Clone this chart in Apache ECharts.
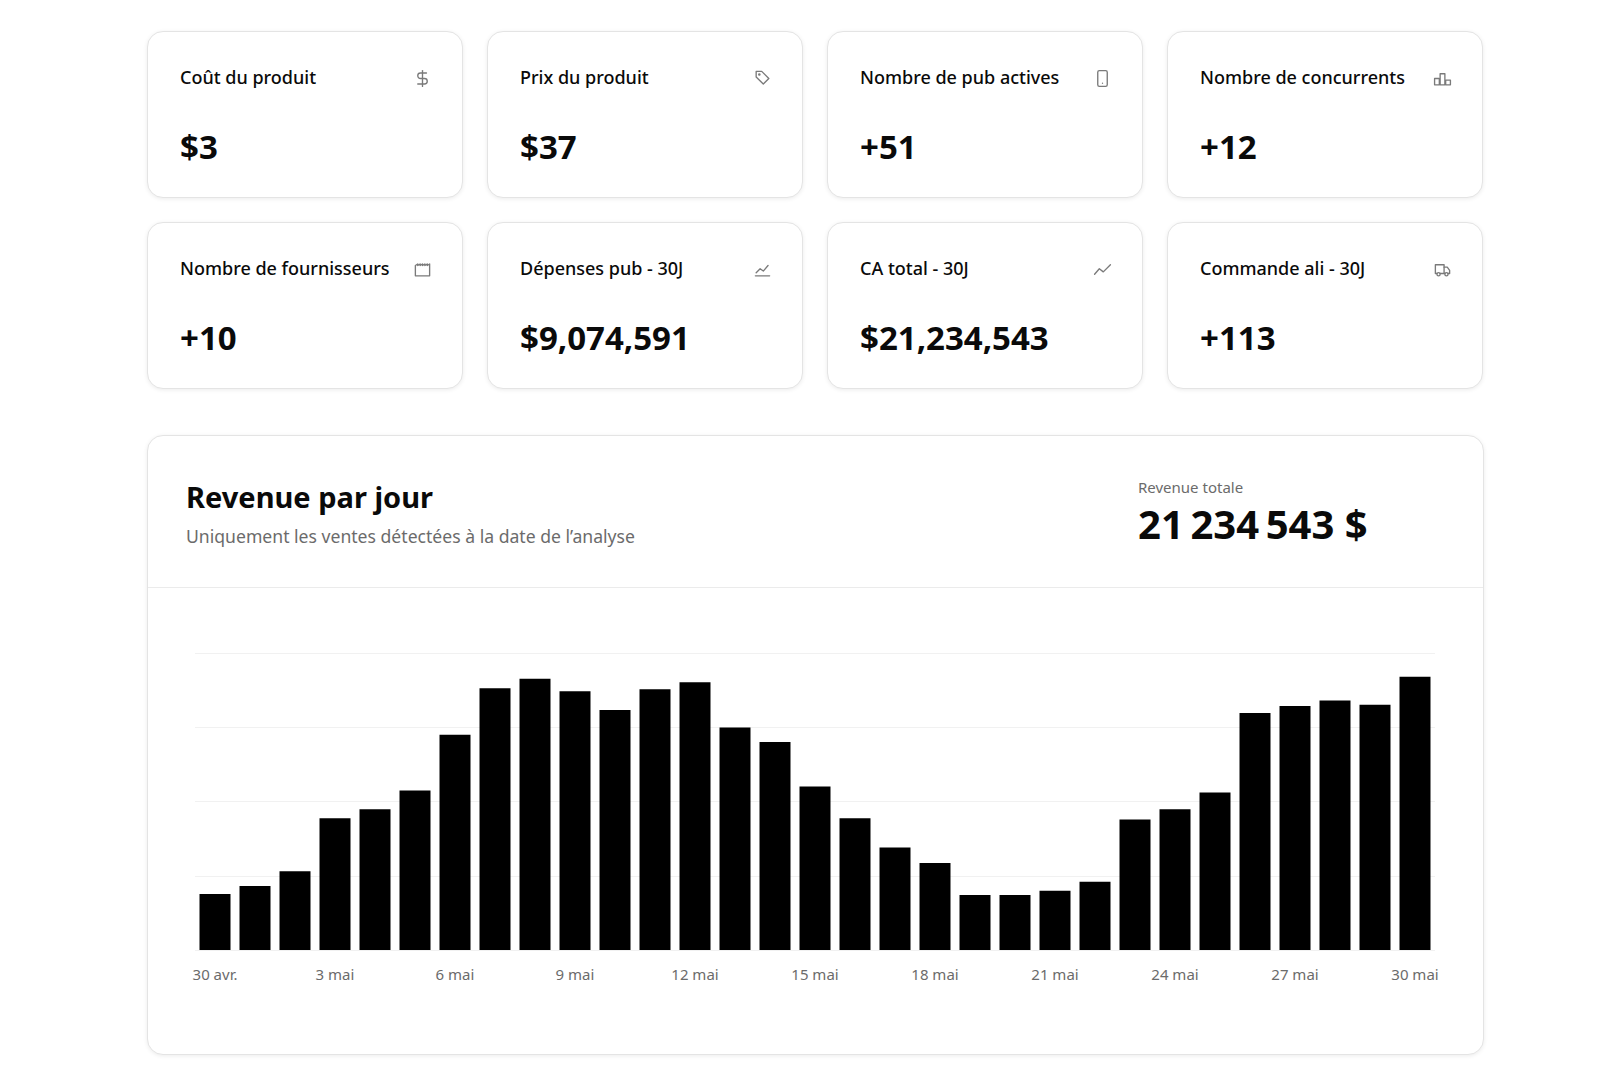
<!DOCTYPE html>
<html lang="fr">
<head>
<meta charset="utf-8">
<title>Revenue par jour</title>
<script src="https://cdn.jsdelivr.net/npm/echarts@6/dist/echarts.min.js"></script>
<style>
  html, body { margin: 0; padding: 0; background: #fff; }
  body { width: 1620px; height: 1074px; position: relative; overflow: hidden; font-family: "Noto Sans", "Open Sans", sans-serif; color: #0a0a0a; }
  .card { position: absolute; box-sizing: border-box; background: #fff; border: 1px solid #e4e4e4; border-radius: 16px; box-shadow: 0 1px 4px rgba(0,0,0,0.08); }
  .kpi { width: 316px; height: 167px; }
  .kpi .label { position: absolute; left: 32px; top: 33px; font-size: 18px; line-height: 24px; font-weight: 500; white-space: nowrap; }
  .kpi .icon { position: absolute; right: 30px; top: 37px; width: 19px; height: 19px; }
  .kpi .value { position: absolute; left: 32px; top: 95px; font-size: 33px; line-height: 40px; font-weight: 700; white-space: nowrap; }
  #revCard { left: 147px; top: 435px; width: 1337px; height: 620px; }
  #revCard .title { position: absolute; left: 38px; top: 42px; font-size: 29px; line-height: 38px; font-weight: 700; }
  #revCard .sub { position: absolute; left: 38px; top: 88px; font-size: 17.6px; line-height: 24px; color: #6b6b6b; }
  #revCard .totLabel { position: absolute; left: 990px; top: 41px; font-size: 15px; line-height: 20px; color: #6b6b6b; }
  #revCard .tot { position: absolute; left: 990px; top: 64px; font-size: 40px; line-height: 48px; font-weight: 700; white-space: nowrap; }
  #revCard .divider { position: absolute; left: 0; right: 0; top: 151px; height: 1px; background: #ebebeb; }
  #chart { position: absolute; left: 147px; top: 588px; width: 1337px; height: 466px; }
</style>
</head>
<body>
<div id="cards"></div>
<div class="card" id="revCard">
  <div class="title">Revenue par jour</div>
  <div class="sub">Uniquement les ventes détectées à la date de l’analyse</div>
  <div class="totLabel">Revenue totale</div>
  <div class="tot" id="tot"></div>
  <div class="divider"></div>
</div>
<div id="chart"></div>
<script>
// kpi cards
const kpiLabels = ['Coût du produit', 'Prix du produit', 'Nombre de pub actives', 'Nombre de concurrents',
  'Nombre de fournisseurs', 'Dépenses pub - 30J', 'CA total - 30J', 'Commande ali - 30J']
const kpiValues = ['$3', '$37', '+51', '+12', '+10', '$9,074,591', '$21,234,543', '+113']
const kpiIcons = ['dollar', 'tag', 'phone', 'bars', 'factory', 'area', 'trend', 'truck']

// revenue per day
const days = ['30 avr.', '1 mai', '2 mai', '3 mai', '4 mai', '5 mai', '6 mai', '7 mai', '8 mai', '9 mai',
  '10 mai', '11 mai', '12 mai', '13 mai', '14 mai', '15 mai', '16 mai', '17 mai', '18 mai', '19 mai',
  '20 mai', '21 mai', '22 mai', '23 mai', '24 mai', '25 mai', '26 mai', '27 mai', '28 mai', '29 mai', '30 mai']
const revenue = [226000, 259000, 318000, 532000, 569000, 644000, 870000, 1058000, 1096000, 1045000,
  970000, 1054000, 1082000, 899000, 840000, 661000, 532000, 414000, 352000, 222000,
  222000, 239000, 276000, 527000, 569000, 636000, 958000, 986000, 1008000, 991000, 1104000]
const totalRevenue = '21\u202f234\u202f543 $'

const iconPaths = {
  dollar: '<line x1="12" y1="2" x2="12" y2="22"/><path d="M17 5H9.5a3.5 3.5 0 0 0 0 7h5a3.5 3.5 0 0 1 0 7H6"/>',
  tag: '<path d="M4 3h7l9 9-7 7-9-9z"/><circle cx="8" cy="7" r="0.8"/>',
  phone: '<rect x="6" y="2" width="12" height="20" rx="2"/><path d="M12 18h.01"/>',
  bars: '<rect x="2" y="12" width="6" height="8"/><rect x="9" y="6" width="6" height="14"/><rect x="16" y="14" width="6" height="6"/>',
  factory: '<path d="M3 20V7l3 -2v2l3-2v2l3-2v2l3-2v2l3-2v2l3-2v15z"/>',
  area: '<path d="M3 20h18"/><path d="M4 16l5-5 4 3 6-7"/>',
  trend: '<polyline points="2 18 8 11 13 15 22 6"/>',
  truck: '<path d="M14 17V6H3v11h2"/><path d="M14 9h4l3 4v4h-2"/><circle cx="7" cy="18" r="2"/><circle cx="17" cy="18" r="2"/><path d="M9 17h6"/>'
}

const wrap = document.getElementById('cards')
kpiLabels.forEach((label, i) => {
  const card = document.createElement('div')
  card.className = 'card kpi'
  card.style.left = (147 + (i % 4) * 340) + 'px'
  card.style.top = (i < 4 ? 31 : 222) + 'px'
  card.innerHTML = '<div class="label">' + label + '</div>' +
    '<svg class="icon" viewBox="0 0 24 24" fill="none" stroke="#7a7a7a" stroke-width="1.7" stroke-linecap="round" stroke-linejoin="round">' +
    iconPaths[kpiIcons[i]] + '</svg>' +
    '<div class="value">' + kpiValues[i] + '</div>'
  wrap.appendChild(card)
})
document.getElementById('tot').textContent = totalRevenue

const chart = echarts.init(document.getElementById('chart'), null, {renderer: 'svg'})
chart.setOption({
  animation: false,
  grid: {left: 48, right: 49, top: 65, bottom: 104},
  xAxis: {
    type: 'category',
    data: days,
    axisLine: {show: false},
    axisTick: {show: false},
    axisLabel: {interval: 2, color: '#6b6b6b', fontSize: 15, margin: 16, fontFamily: 'Noto Sans'}
  },
  yAxis: {
    type: 'value',
    min: 0,
    max: 1200000,
    interval: 300000,
    axisLabel: {show: false},
    axisLine: {show: false},
    axisTick: {show: false},
    splitLine: {lineStyle: {color: '#f1f1f1', width: 1}}
  },
  series: [{
    name: 'Revenue',
    type: 'bar',
    data: revenue,
    barWidth: 31,
    itemStyle: {color: '#000'}
  }]
})
</script>
</body>
</html>
